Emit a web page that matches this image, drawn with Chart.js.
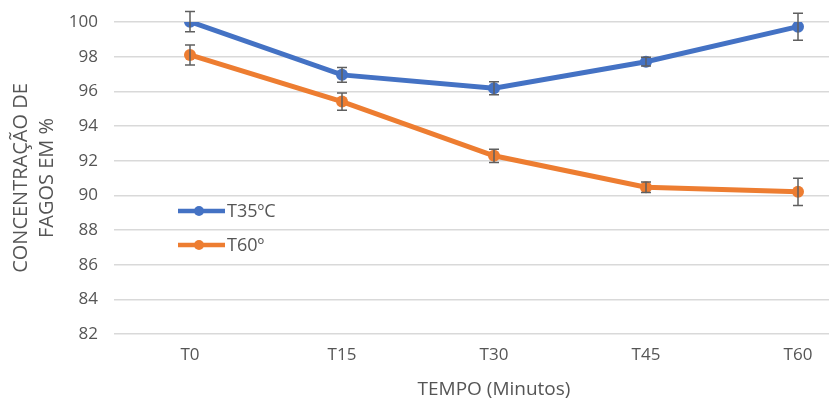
<!DOCTYPE html>
<html>
<head>
<meta charset="utf-8">
<script src="https://cdn.jsdelivr.net/npm/chart.js@4/dist/chart.umd.min.js"></script>
<style>
  html, body { margin: 0; padding: 0; background: #ffffff; overflow: hidden; }
  #wrap { width: 880px; height: 401px; }
</style>
</head>
<body>
<div id="wrap"><canvas id="c" width="880" height="401"></canvas></div>
<script>
const categories = ['T0', 'T15', 'T30', 'T45', 'T60'];
const seriesNames = ['T35ºC', 'T60º'];
const t35Values = [100.02, 96.95, 96.18, 97.71, 99.73];
const t35Errors = [0.58, 0.43, 0.37, 0.25, 0.78];
const t60Values = [98.10, 95.41, 92.28, 90.47, 90.20];
const t60Errors = [0.58, 0.50, 0.38, 0.30, 0.78];
const yTicks = [82, 84, 86, 88, 90, 92, 94, 96, 98, 100];

const TEXT = '#555555';
const FONT = '"Open Sans", "Liberation Sans", sans-serif';

const errorBars = {
  id: 'errorBars',
  afterDatasetsDraw(chart) {
    const ctx = chart.ctx;
    const y = chart.scales.y;
    ctx.save();
    ctx.strokeStyle = '#5f5f5f';
    ctx.lineWidth = 1.5;
    chart.data.datasets.forEach((ds, i) => {
      const meta = chart.getDatasetMeta(i);
      meta.data.forEach((pt, j) => {
        const e = ds.errors[j];
        const v = ds.data[j];
        const yt = y.getPixelForValue(v + e);
        const yb = y.getPixelForValue(v - e);
        const x = pt.x;
        ctx.beginPath();
        ctx.moveTo(x, yt); ctx.lineTo(x, yb);
        ctx.moveTo(x - 5, yt); ctx.lineTo(x + 5, yt);
        ctx.moveTo(x - 5, yb); ctx.lineTo(x + 5, yb);
        ctx.stroke();
      });
    });
    ctx.restore();
  }
};

const innerLegend = {
  id: 'innerLegend',
  afterDraw(chart) {
    const ctx = chart.ctx;
    const a = chart.chartArea;
    const x0 = a.left + 64;
    let yy = a.top + 189;
    ctx.save();
    chart.data.datasets.forEach((ds) => {
      ctx.strokeStyle = ds.borderColor;
      ctx.lineWidth = 4.5;
      ctx.beginPath();
      ctx.moveTo(x0, yy); ctx.lineTo(x0 + 47, yy);
      ctx.stroke();
      ctx.fillStyle = ds.borderColor;
      ctx.beginPath();
      ctx.arc(x0 + 21, yy, 5, 0, Math.PI * 2);
      ctx.fill();
      ctx.fillStyle = TEXT;
      ctx.font = '18px ' + FONT;
      ctx.textBaseline = 'middle';
      ctx.textAlign = 'left';
      ctx.fillText(ds.label, x0 + 49, yy + 1);
      yy += 34;
    });
    ctx.restore();
  }
};

new Chart(document.getElementById('c'), {
  type: 'line',
  data: {
    labels: categories,
    datasets: [
      { label: seriesNames[0], data: t35Values, errors: t35Errors,
        borderColor: '#4472C4', backgroundColor: '#4472C4',
        borderWidth: 5, pointRadius: 6, pointBorderWidth: 0, tension: 0 },
      { label: seriesNames[1], data: t60Values, errors: t60Errors,
        borderColor: '#ED7D31', backgroundColor: '#ED7D31',
        borderWidth: 5, pointRadius: 6, pointBorderWidth: 0, tension: 0 }
    ]
  },
  options: {
    responsive: false,
    animation: false,
    layout: { padding: { top: 22, right: 4, bottom: 0, left: 0 } },
    plugins: { legend: { display: false }, tooltip: { enabled: false } },
    scales: {
      x: {
        offset: true,
        grid: { display: false, drawTicks: false },
        border: { display: false },
        ticks: { color: TEXT, font: { family: FONT, size: 17 }, padding: 11 },
        title: { display: true, text: 'TEMPO (Minutos)', color: TEXT,
                 font: { family: FONT, size: 19, lineHeight: 1.2 }, padding: { top: 4, bottom: 0 } },
        afterFit(s) { s.height = 67; s.paddingLeft = 0; s.paddingRight = 0; }
      },
      y: {
        min: 82, max: 100,
        afterBuildTicks(s) { s.ticks = yTicks.map(v => ({ value: v })); },
        grid: { color: '#d9d9d9', lineWidth: 1.5, drawTicks: false },
        border: { display: false },
        ticks: { color: TEXT, font: { family: FONT, size: 17 }, padding: 16 },
        title: { display: true, text: ['CONCENTRAÇÃO DE', 'FAGOS EM %'], color: TEXT,
                 font: { family: FONT, size: 20, lineHeight: 1.3 }, padding: { top: 8, bottom: 0 } },
        afterFit(s) { s.width = 114; s.paddingTop = 0; s.paddingBottom = 0; }
      }
    }
  },
  plugins: [errorBars, innerLegend]
});
</script>
</body>
</html>
